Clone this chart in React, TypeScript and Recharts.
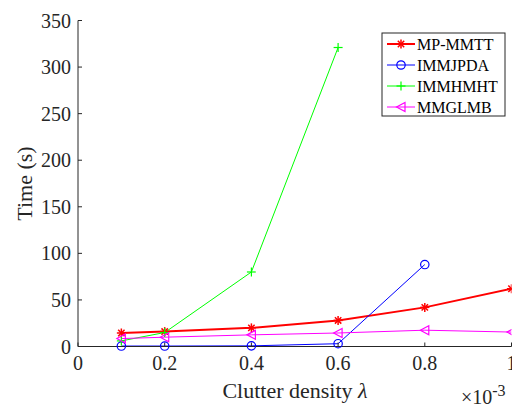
import React from 'react';
import { LineChart, Line, XAxis, YAxis, Customized } from 'recharts';

const clutterDensity = [0.1, 0.2, 0.4, 0.6, 0.8, 1.0];
const mpMmtt = [14.5, 16, 20, 28, 42, 62];
const immJpda = [0.5, 0.5, 0.7, 3, 88];
const immHmht = [6, 15, 80, 321];
const mmGlmb = [8.5, 10, 12.5, 14.5, 17.5, 15.5];

const xTicks = [0, 0.2, 0.4, 0.6, 0.8, 1];
const yTicks = [0, 50, 100, 150, 200, 250, 300, 350];
const seriesNames = ['MP-MMTT', 'IMMJPDA', 'IMMHMHT', 'MMGLMB'];
const seriesKeys = ['mp', 'jpda', 'hmht', 'glmb'];
const seriesColors = ['#ff0000', '#0000ff', '#00ff00', '#ff00ff'];
const seriesMarkers = ['asterisk', 'circle', 'plus', 'triangleLeft'];
const seriesWidths = [2, 1, 1, 1];

const data = clutterDensity.map((x, i) => ({
  x,
  mp: mpMmtt[i] ?? null,
  jpda: immJpda[i] ?? null,
  hmht: immHmht[i] ?? null,
  glmb: mmGlmb[i] ?? null,
}));

const FONT = "'Liberation Serif', 'Times New Roman', serif";
const AXIS = '#262626';
const serif = { fontFamily: FONT };

function Marker({ kind, cx, cy, color }: { kind: string; cx: number; cy: number; color: string }) {
  if (kind === 'asterisk') {
    const s = 4.5;
    const d = 3.2;
    return (
      <g stroke={color} strokeWidth={1.5} fill="none">
        <line x1={cx - s} y1={cy} x2={cx + s} y2={cy} />
        <line x1={cx} y1={cy - s} x2={cx} y2={cy + s} />
        <line x1={cx - d} y1={cy - d} x2={cx + d} y2={cy + d} />
        <line x1={cx - d} y1={cy + d} x2={cx + d} y2={cy - d} />
      </g>
    );
  }
  if (kind === 'circle') {
    return <circle cx={cx} cy={cy} r={4.2} stroke={color} strokeWidth={1.2} fill="none" />;
  }
  if (kind === 'plus') {
    const s = 4.5;
    return (
      <g stroke={color} strokeWidth={1.2} fill="none">
        <line x1={cx - s} y1={cy} x2={cx + s} y2={cy} />
        <line x1={cx} y1={cy - s} x2={cx} y2={cy + s} />
      </g>
    );
  }
  return (
    <polygon
      points={`${cx - 4.5},${cy} ${cx + 4},${cy - 4.5} ${cx + 4},${cy + 4.5}`}
      stroke={color}
      strokeWidth={1.2}
      fill="none"
    />
  );
}

function makeDot(kind: string, color: string) {
  return (props: any) => {
    const { cx, cy, value, index } = props;
    if (value == null || cx == null || cy == null || isNaN(cy)) {
      return <g key={`empty-${index}`} />;
    }
    return (
      <g key={`dot-${kind}-${index}`}>
        <Marker kind={kind} cx={cx} cy={cy} color={color} />
      </g>
    );
  };
}

function Overlay() {
  const boxX = 382;
  const boxY = 33;
  const rowY = [44, 65, 86, 107];
  return (
    <g style={serif}>
      <text
        x={32}
        y={183.5}
        transform="rotate(-90, 32, 183.5)"
        textAnchor="middle"
        style={serif}
        fontSize={22}
        fill={AXIS}
      >
        Time (s)
      </text>
      <text x={295} y={398} textAnchor="middle" style={serif} fontSize={22} fill={AXIS}>
        Clutter density <tspan fontStyle="italic">λ</tspan>
      </text>
      <text x={461} y={404} style={serif} fontSize={20} fill={AXIS}>
        ×10<tspan fontSize={16} dy={-8}>-3</tspan>
      </text>
      <rect x={boxX} y={boxY} width={123} height={83} fill="#ffffff" stroke={AXIS} strokeWidth={1} />
      {seriesNames.map((name, i) => (
        <g key={name}>
          <line
            x1={387}
            y1={rowY[i]}
            x2={415}
            y2={rowY[i]}
            stroke={seriesColors[i]}
            strokeWidth={seriesWidths[i]}
          />
          <Marker kind={seriesMarkers[i]} cx={401} cy={rowY[i]} color={seriesColors[i]} />
          <text x={417} y={rowY[i] + 5.5} style={serif} fontSize={16} fill="#000000">
            {name}
          </text>
        </g>
      ))}
    </g>
  );
}

export default function App() {
  return (
    <div style={{ position: 'absolute', left: 0, top: 0, width: 512, height: 407, background: '#fff', fontFamily: FONT }}>
      <LineChart
        width={512}
        height={407}
        data={data}
        margin={{ top: 20.5, right: 0.5, left: 0, bottom: 0 }}
        style={serif}
      >
        <XAxis
          dataKey="x"
          type="number"
          domain={[0, 1]}
          ticks={xTicks}
          tickFormatter={(v: number) => String(Number(v.toFixed(1)))}
          tickSize={-4}
          tickMargin={13}
          height={60.5}
          stroke={AXIS}
          tick={{ fill: AXIS, fontSize: 20, style: serif }}
          interval={0}
          allowDataOverflow
        />
        <XAxis
          xAxisId="top"
          orientation="top"
          dataKey="x"
          type="number"
          domain={[0, 1]}
          ticks={xTicks}
          tickFormatter={() => ''}
          tickSize={-4}
          height={0}
          stroke={AXIS}
          interval={0}
        />
        <YAxis
          type="number"
          domain={[0, 350]}
          ticks={yTicks}
          tickSize={-4}
          tickMargin={11}
          width={78}
          stroke={AXIS}
          tick={{ fill: AXIS, fontSize: 20, style: serif }}
          interval={0}
        />
        <YAxis
          yAxisId="right"
          orientation="right"
          type="number"
          domain={[0, 350]}
          ticks={yTicks}
          tickFormatter={() => ''}
          tickSize={-4}
          width={0}
          stroke={AXIS}
          interval={0}
        />
        {seriesKeys.map((k, i) => (
          <Line
            key={k}
            dataKey={k}
            stroke={seriesColors[i]}
            strokeWidth={seriesWidths[i]}
            dot={makeDot(seriesMarkers[i], seriesColors[i])}
            activeDot={false}
            isAnimationActive={false}
            type="linear"
            connectNulls={false}
          />
        ))}
        <Customized component={Overlay} />
      </LineChart>
    </div>
  );
}
